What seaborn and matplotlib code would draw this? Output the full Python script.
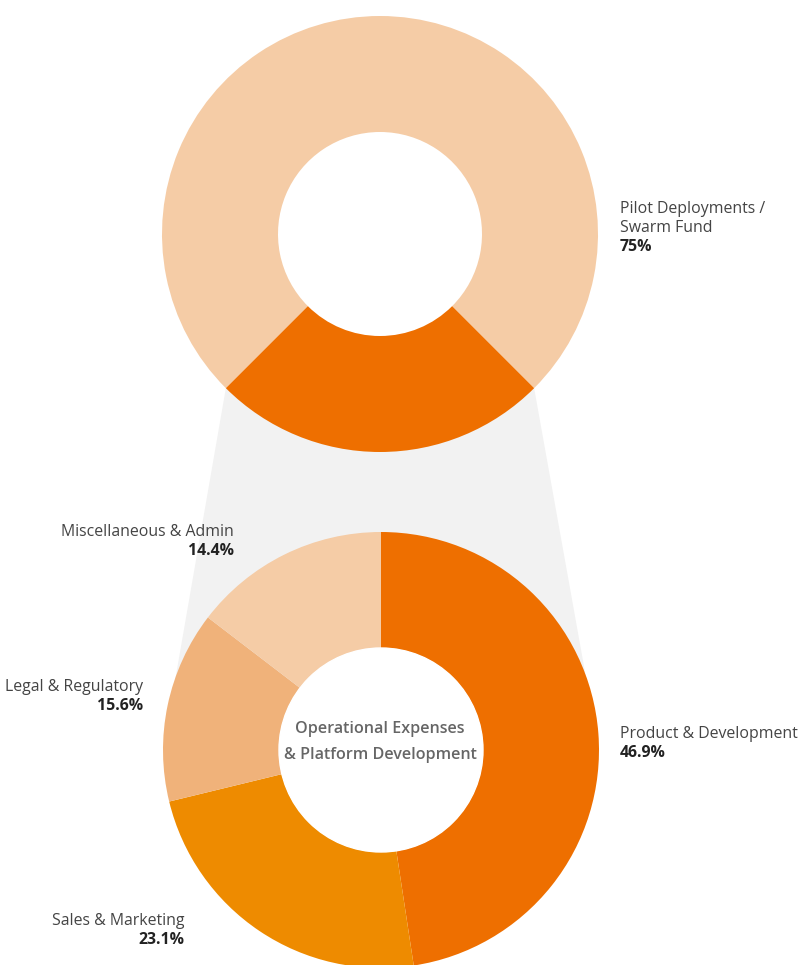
import numpy as np
import matplotlib
matplotlib.use("Agg")
import matplotlib.pyplot as plt
import seaborn as sns

sns.set_theme(style="white")
plt.rcParams["font.family"] = ["Open Sans", "DejaVu Sans"]

# data
top_labels = ["Pilot Deployments /\nSwarm Fund", "Operational Expenses\n& Platform Development"]
top_values = [75, 25]
top_colors = ["#F5CCA6", "#EE6F00"]

sub_labels = ["Product & Development", "Sales & Marketing", "Legal & Regulatory", "Miscellaneous & Admin"]
sub_pcts = [46.9, 23.1, 15.6, 14.4]          # printed shares
sub_shares = [47.6, 23.6, 14.2, 14.6]        # wedge sizes as drawn in the picture
sub_colors = ["#EE6F00", "#EE8B00", "#F0B27A", "#F5CCA6"]

W, H = 800, 965
fig = plt.figure(figsize=(W / 100, H / 100), dpi=100)
ax = fig.add_axes([0, 0, 1, 1])


def py(y):
    # pixel row (from top) -> data y
    return H - y


R, hole = 218, 116
top_c = (380, py(234))
bot_c = (381, py(750))

top_w, _ = ax.pie(top_values, colors=top_colors, startangle=-45, radius=R,
                  center=top_c, wedgeprops=dict(width=hole, linewidth=0), frame=True)
bot_w, _ = ax.pie(sub_shares, colors=sub_colors, startangle=90, counterclock=False,
                  radius=R, center=bot_c, wedgeprops=dict(width=hole, linewidth=0), frame=True)
ax.add_patch(plt.Circle(bot_c, R - hole, color="white", zorder=1))

# grey connector from the top slice to the lower donut
w = top_w[1]
a1, a2 = np.deg2rad(w.theta1), np.deg2rad(w.theta2)
poly_x = [top_c[0] + R * np.cos(a1), top_c[0] + R * np.cos(a2), bot_c[0] + R, bot_c[0] - R]
poly_y = [top_c[1] + R * np.sin(a1), top_c[1] + R * np.sin(a2), bot_c[1], bot_c[1]]
ax.fill(poly_x, poly_y, color="#F2F2F2", zorder=0, linewidth=0)

ax.set_xlim(0, W)
ax.set_ylim(0, H)
ax.set_aspect("equal")
ax.axis("off")

name_kw = dict(fontsize=11.4, color="#444444", va="baseline")
pct_kw = dict(fontsize=11.4, color="#222222", va="baseline", fontweight="bold")


def label(x, y, name, value, ha):
    lines = name.split("\n")
    for i, ln in enumerate(lines):
        ax.text(x, py(y + 19 * i), ln, ha=ha, **name_kw)
    ax.text(x, py(y + 19 * len(lines)), f"{value:g}%", ha=ha, **pct_kw)


label(620, 213, top_labels[0], top_values[0], "left")
label(620, 738, sub_labels[0], sub_pcts[0], "left")
label(184, 925, sub_labels[1], sub_pcts[1], "right")
label(143, 691, sub_labels[2], sub_pcts[2], "right")
label(234, 536, sub_labels[3], sub_pcts[3], "right")

for i, ln in enumerate(top_labels[1].split("\n")):
    ax.text(380, py(733 + 26 * i), ln, ha="center", va="baseline",
            fontsize=11.6, fontweight="semibold", color="#666666", zorder=3)

fig.savefig("out.png", dpi=100, facecolor="white")
